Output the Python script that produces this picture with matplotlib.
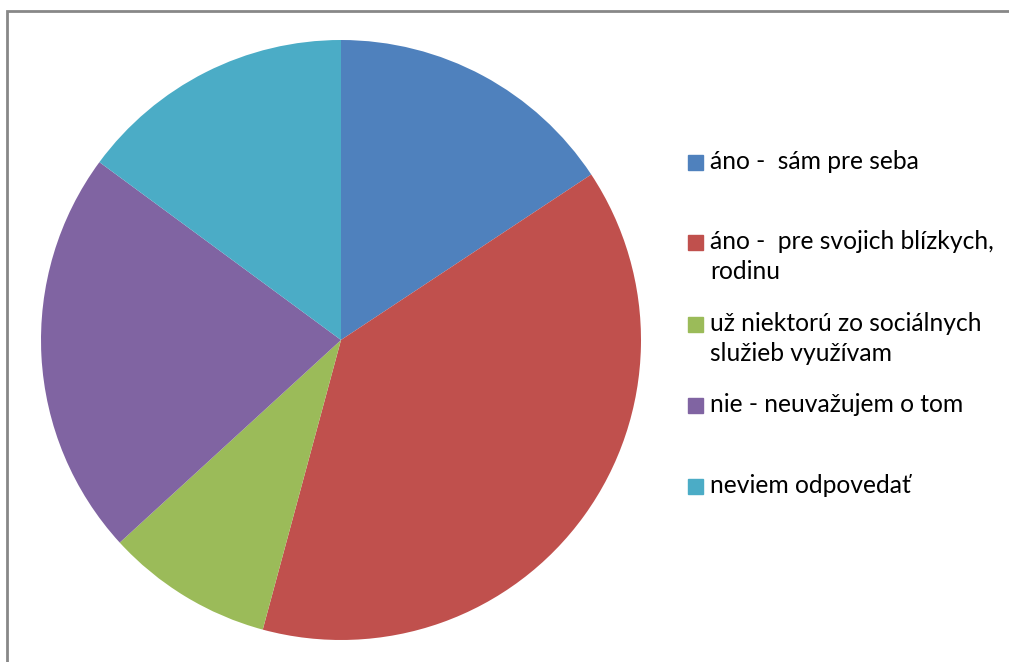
import matplotlib.pyplot as plt
from matplotlib.patches import Rectangle

labels = ["áno -  sám pre seba",
          "áno -  pre svojich blízkych,\nrodinu",
          "už niektorú zo sociálnych\nslužieb využívam",
          "nie - neuvažujem o tom",
          "neviem odpovedať"]
values = [15.7, 38.5, 9.0, 21.9, 14.9]
colors = ["#4F81BD", "#C0504D", "#9BBB59", "#8064A2", "#4BACC6"]
# legend row centres (pixels from top)
legend_y = [163, 243, 325, 406, 487]

W, H = 1009, 662
fig = plt.figure(figsize=(W / 100, H / 100), dpi=100)

# outer chart border (runs off right and bottom edge)
fig.patches.append(Rectangle((7 / W, -0.1), 1.1, 1 - 11 / H + 0.1,
                             transform=fig.transFigure, fill=False,
                             edgecolor="#888888", linewidth=2))

cx, cy, r = 341, 340, 300
ax = fig.add_axes([(cx - r) / W, (H - cy - r) / H, 2 * r / W, 2 * r / H])
ax.pie(values, colors=colors, startangle=90, counterclock=False,
       radius=1, wedgeprops=dict(linewidth=0))
ax.set_xlim(-1, 1)
ax.set_ylim(-1, 1)
ax.set_aspect("auto")
ax.axis("off")

for lab, col, y in zip(labels, colors, legend_y):
    fig.patches.append(Rectangle((688 / W, (H - y - 7) / H), 15 / W, 15 / H,
                                 transform=fig.transFigure, color=col))
    fig.text(710 / W, (H - y + 13) / H, lab, fontsize=17.7, family="Lato",
             va="top", ha="left", linespacing=1.38, color="black")

fig.savefig("out.png", dpi=100)
